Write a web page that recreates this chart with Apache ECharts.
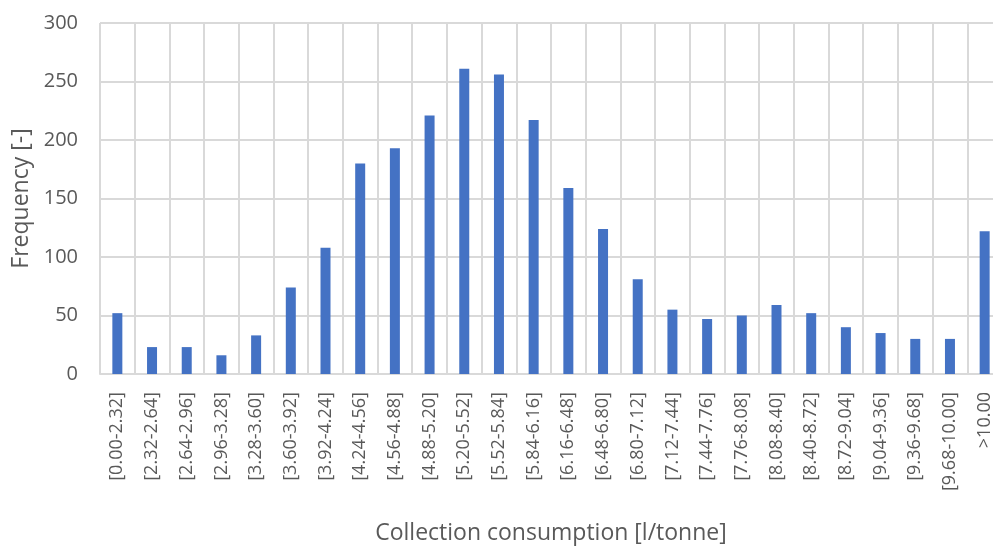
<!DOCTYPE html>
<html>
<head>
<meta charset="utf-8">
<script src="https://cdn.jsdelivr.net/npm/echarts@6/dist/echarts.min.js"></script>
<style>html,body{margin:0;padding:0;background:#fff}#c{width:993px;height:552px}</style>
</head>
<body>
<div id="c"></div>
<script>
const categories = ["[0.00-2.32]","[2.32-2.64]","[2.64-2.96]","[2.96-3.28]","[3.28-3.60]","[3.60-3.92]","[3.92-4.24]","[4.24-4.56]","[4.56-4.88]","[4.88-5.20]","[5.20-5.52]","[5.52-5.84]","[5.84-6.16]","[6.16-6.48]","[6.48-6.80]","[6.80-7.12]","[7.12-7.44]","[7.44-7.76]","[7.76-8.08]","[8.08-8.40]","[8.40-8.72]","[8.72-9.04]","[9.04-9.36]","[9.36-9.68]","[9.68-10.00]",">10.00"];
const frequency = [52,23,23,16,33,74,108,180,193,221,261,256,217,159,124,81,55,47,50,59,52,40,35,30,30,122];
const xTitle = "Collection consumption [l/tonne]";
const yTitle = "Frequency [-]";

const FONT = "Open Sans";
const TXT = "#595959";
const GRID = "#d9d9d9";
const chart = echarts.init(document.getElementById('c'), null, {renderer: 'canvas'});
chart.setOption({
  animation: false,
  grid: {left: 100, top: 23, height: 351, width: 902, containLabel: false, outerBoundsMode: 'none'},
  xAxis: {
    type: 'category',
    data: categories,
    boundaryGap: true,
    name: xTitle,
    nameLocation: 'middle',
    nameGap: 148,
    nameTextStyle: {color: TXT, fontFamily: FONT, fontSize: 23},
    axisLine: {show: true, lineStyle: {color: GRID, width: 2}},
    axisTick: {show: false},
    axisLabel: {interval: 0, rotate: 90, color: TXT, fontFamily: FONT, fontSize: 18, margin: 18},
    splitLine: {show: true, interval: 0, lineStyle: {color: GRID, width: 2}}
  },
  yAxis: {
    type: 'value',
    min: 0, max: 300, interval: 50,
    name: yTitle,
    nameLocation: 'middle',
    nameGap: 63,
    nameTextStyle: {color: TXT, fontFamily: FONT, fontSize: 23},
    axisLine: {show: false},
    axisTick: {show: false},
    axisLabel: {color: TXT, fontFamily: FONT, fontSize: 20, margin: 22},
    splitLine: {show: true, lineStyle: {color: GRID, width: 2}}
  },
  series: [{
    type: 'bar',
    data: frequency,
    barWidth: 10,
    itemStyle: {color: '#4472C4'}
  }]
});
</script>
</body>
</html>
